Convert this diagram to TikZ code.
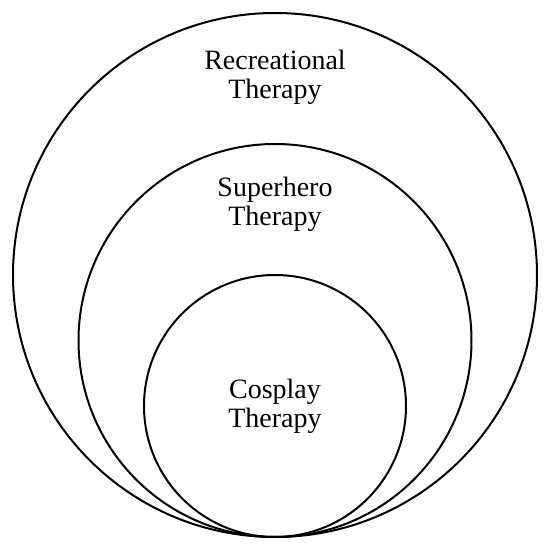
\documentclass[tikz,border=0pt]{standalone}
\usepackage{fontspec}
\setmainfont{Liberation Serif}
\begin{document}
\begin{tikzpicture}[x=1pt,y=-1pt,
  ring/.style={draw=black,line width=2pt},
  lbl/.style={align=center,font=\fontsize{28}{29}\selectfont,inner sep=0pt}]
\useasboundingbox (0,0) rectangle (550,548);
\draw[ring] (275,275) circle[radius=262];
\draw[ring] (275,340.5) circle[radius=196.5];
\draw[ring] (275,406) circle[radius=131];
\node[lbl] (rec) at (275,77.5) {Recreational\\Therapy};
\node[lbl] (sup) at (275,204) {Superhero\\Therapy};
\node[lbl] (cos) at (275,406) {Cosplay\\Therapy};
\end{tikzpicture}
\end{document}
